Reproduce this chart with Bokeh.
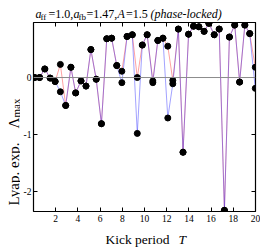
from bokeh.plotting import figure
from bokeh.models import Span, Label, LinearAxis, FixedTicker, Range1d, CustomLabelingPolicy
from bokeh.layouts import column, row
from bokeh.embed import file_html
from bokeh.resources import INLINE
import math

# ---- data ----
kick_T = [0.1, 0.55, 1.02, 1.5, 1.95, 2.42, 2.9, 3.37, 3.8, 4.28, 4.73, 5.17, 5.65,
          6.12, 6.6, 7.04, 7.5, 7.96, 8.43, 8.9, 9.35, 9.8, 10.24, 10.75, 11.2, 11.66,
          12.1, 12.55, 13.05, 13.47, 13.97, 14.42, 14.9, 15.37, 15.8, 16.28, 16.73,
          17.2, 17.65, 18.13, 18.57, 19.04, 19.48, 19.98]
lyap_red = [0.0, 0.0, 0.15, -0.01, -0.07, 0.23, -0.49, 0.18, -0.27, -0.06, -0.15, 0.49,
            -0.03, -0.81, 0.68, 0.69, 0.21, 0.11, 0.72, 0.75, 0.0, 0.57, 0.75, -0.06,
            0.65, 0.69, 0.55, -0.05, 0.85, -1.31, 0.76, 0.90, 0.89, 0.81, 0.95, 0.75,
            0.85, -2.33, 0.71, 0.92, -0.08, 0.92, 0.77, 0.18]
lyap_blue = [0.0, 0.0, 0.15, -0.01, -0.07, -0.25, -0.49, 0.18, -0.27, -0.06, -0.15, 0.49,
             -0.03, -0.81, 0.68, 0.69, 0.21, -0.09, 0.72, 0.75, -0.98, 0.57, 0.75, -0.09,
             0.65, 0.69, -0.71, -0.11, 0.85, -1.31, 0.76, 0.90, 0.89, 0.81, 0.95, 0.75,
             0.85, -2.33, 0.71, 0.92, -0.08, 0.92, 0.77, -0.19]
x_ticks = [2, 4, 6, 8, 10, 12, 14, 16, 18, 20]
y_ticks = [0, -1, -2]
y_tick_labels = ["0", "-1", "-2"]

FONT = "Liberation Serif"


def blank_fig(w, h):
    f = figure(width=w, height=h, output_backend="svg", toolbar_location=None,
               x_axis_type=None, y_axis_type=None, x_range=Range1d(0, 1), y_range=Range1d(0, 1),
               min_border=0, min_border_left=0, min_border_right=0, min_border_top=0,
               min_border_bottom=0)
    f.grid.visible = False
    f.outline_line_color = None
    f.background_fill_color = "white"
    f.border_fill_color = "white"
    return f


def lab(f, text, x, y, size="12px", style="normal", angle=0):
    f.add_layout(Label(x=x, y=y, x_units="screen", y_units="screen", text=text,
                       text_font=FONT, text_font_size=size, text_font_style=style,
                       text_color="black", text_baseline="alphabetic", text_align="left",
                       angle=angle))

# ---- title strip (page y 0..22) ----
tf = blank_fig(260, 22)
TB = 9.0
lab(tf, "a", 35, TB, style="italic")
lab(tf, "ff", 40, TB - 3, size="9px")
lab(tf, "=1.0,", 48, TB)
lab(tf, "a", 73, TB, style="italic")
lab(tf, "fb", 78, TB - 3, size="9px")
lab(tf, "=1.47,", 86, TB)
lab(tf, "A", 117, TB, style="italic")
lab(tf, "=1.5", 125.5, TB)
lab(tf, "(phase-locked)", 150, TB, style="italic")

# ---- y label strip (frame aligned with main frame: page x 0..20, y 22..211) ----
yf = blank_fig(20, 206)
YB = 211.0
lab(yf, "Lyap. exp.", 13, YB - 205, size="15px", angle=math.pi / 2)
lab(yf, "\u039b", 13, YB - 128, size="15px", angle=math.pi / 2)
lab(yf, "max", 15, YB - 117, size="11px", angle=math.pi / 2)

# ---- main plot (page x 20..260, y 22..228) ----
p = figure(width=240, height=206, output_backend="svg", toolbar_location=None,
           x_range=Range1d(0, 20), y_range=Range1d(-2.35, 0.965),
           min_border_left=10, min_border_right=5, min_border_top=0, min_border_bottom=17)
p.grid.visible = False
p.outline_line_color = "black"
p.outline_line_width = 1.2
p.background_fill_color = "white"
p.border_fill_color = "white"

for ax in p.axis:
    ax.axis_line_color = None
    ax.major_tick_in = 4
    ax.major_tick_out = 0
    ax.minor_tick_line_color = None
    ax.major_tick_line_color = "black"
    ax.major_label_text_font = FONT
    ax.major_label_text_font_size = "9.5px"
    ax.major_label_text_color = "black"

p.xaxis.ticker = FixedTicker(ticks=x_ticks)
p.xaxis.major_label_standoff = 3
p.yaxis.ticker = FixedTicker(ticks=y_ticks)
p.yaxis.major_label_overrides = {t: s for t, s in zip(y_ticks, y_tick_labels)}
p.yaxis.major_label_standoff = 2

hide = """
try { for (const i of Array.from(indices)) { indices.unset(i) } } catch (e) {}
return indices
"""
top = LinearAxis(ticker=FixedTicker(ticks=x_ticks), axis_line_color=None, major_tick_in=4,
                 major_tick_out=0, minor_tick_line_color=None, major_label_text_font_size="0px",
                 major_label_standoff=0, major_label_policy=CustomLabelingPolicy(code=hide))
right = LinearAxis(ticker=FixedTicker(ticks=y_ticks), axis_line_color=None, major_tick_in=4,
                   major_tick_out=0, minor_tick_line_color=None, major_label_text_font_size="0px",
                   major_label_standoff=0, major_label_policy=CustomLabelingPolicy(code=hide))
p.add_layout(top, "above")
p.add_layout(right, "right")

p.add_layout(Span(location=0, dimension="width", line_color="#8c8c8c", line_width=1))

p.line(kick_T, lyap_red, line_color="#ff3030", line_alpha=0.45, line_width=1)
p.line(kick_T, lyap_blue, line_color="#3030ff", line_alpha=0.45, line_width=1)
p.scatter(kick_T, lyap_red, size=6, color="black")
p.scatter(kick_T, lyap_blue, size=6, color="black")

# ---- x label strip (page y 228..247) ----
xf = blank_fig(260, 19)
lab(xf, "Kick period", 105, 8, size="13.5px")
lab(xf, "T", 178, 8, size="13.5px", style="italic")

layout = column(tf, row(yf, p), xf)
open("out.html", "w").write(file_html(layout, INLINE))
